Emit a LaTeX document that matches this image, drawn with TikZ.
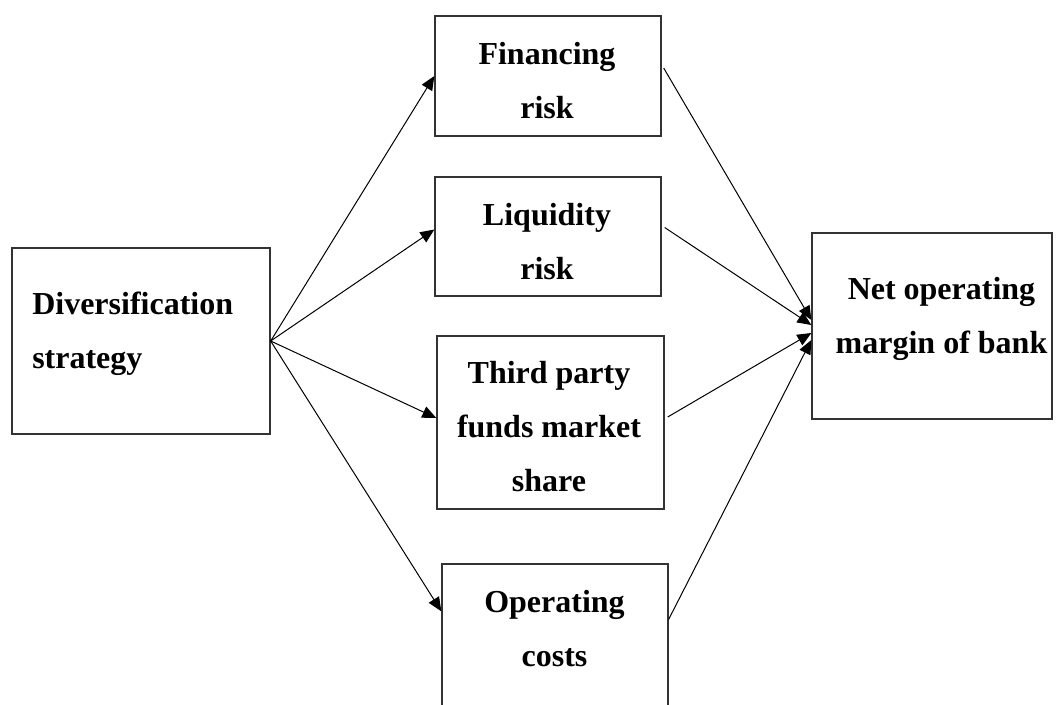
\documentclass[tikz,border=0pt]{standalone}
\usepackage{fontspec}
\setmainfont{Liberation Serif}
\usetikzlibrary{arrows.meta,shapes,calc}

\begin{document}
\begin{tikzpicture}[x=0.75pt,y=-0.75pt,
    box/.style={draw=black!80, line width=1pt, inner sep=0pt},
    boxtext/.style={font=\bfseries\fontsize{24}{40.5}\selectfont, align=center, inner sep=0pt},
    link/.style={line width=0.75pt, -{Triangle[length=10.5pt,width=9pt]}}]

    \useasboundingbox (0,0) rectangle (1062,704);
    \clip (0,0) rectangle (1062,704);

    % boxes
    \node[box, minimum width=193.5pt, minimum height=139.5pt](div) at (141,341) {};
    \node[box, minimum width=169.5pt, minimum height=90pt](fin) at (548,76) {};
    \node[box, minimum width=169.5pt, minimum height=89.25pt](liq) at (548,236.5) {};
    \node[box, minimum width=170.25pt, minimum height=129.75pt](tpf) at (550.5,422.5) {};
    \node[box, minimum width=169.5pt, minimum height=135pt](ops) at (555,654) {};
    \node[box, minimum width=180pt, minimum height=139.5pt](net) at (932,326) {};

    % texts
    \node[boxtext, align=left, anchor=west](divtext) at (32,334) {Diversification\\strategy};
    \node[boxtext](fintext) at (547,80.5) {Financing\\risk};
    \node[boxtext](liqtext) at (547,241.5) {Liquidity\\risk};
    \node[boxtext](tpftext) at (549,427) {Third party\\funds market\\share};
    \node[boxtext](opstext) at (554.5,628.5) {Operating\\costs};
    \node[boxtext](nettext) at (941.5,318.5) {Net operating\\margin of bank};

    % end points on the edges
    \coordinate (liqin) at ($(liq.west)+(0,-7)$);
    \coordinate (tpfin) at ($(tpf.west)+(0,-4.5)$);
    \coordinate (opsin) at ($(ops.north west)+(0,48)$);
    \coordinate (finout) at ($(fin.east)+(2,-8)$);
    \coordinate (liqout) at ($(liq.east)+(3,-9)$);
    \coordinate (tpfout) at ($(tpf.east)+(3,-5.5)$);
    \coordinate (opsout) at ($(ops.north east)+(0,56)$);
    \coordinate (netin1) at ($(net.west)+(0,-6)$);
    \coordinate (netin2) at ($(net.west)+(0,-1)$);
    \coordinate (netin3) at ($(net.west)+(0,7)$);
    \coordinate (netin4) at ($(net.west)+(0,14)$);

    % strategy to mediators
    \draw[link] (div.east) -- (fin.west);
    \draw[link] (div.east) -- (liqin);
    \draw[link] (div.east) -- (tpfin);
    \draw[link] (div.east) -- (opsin);

    % mediators to margin
    \draw[link] (finout) -- (netin1);
    \draw[link] (liqout) -- (netin2);
    \draw[link] (tpfout) -- (netin3);
    \draw[link] (opsout) -- (netin4);

\end{tikzpicture}
\end{document}
